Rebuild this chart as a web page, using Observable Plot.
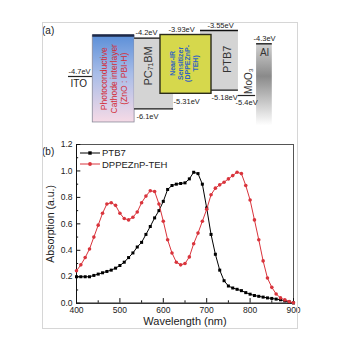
<!DOCTYPE html>
<html><head><meta charset="utf-8">
<script src="https://cdn.jsdelivr.net/npm/d3@7"></script>
<script src="https://cdn.jsdelivr.net/npm/@observablehq/plot@0.6"></script>
<style>
body{margin:0;background:#fff;font-family:"Liberation Sans",Arial,sans-serif;}
#wrap{position:relative;width:353px;height:354px;overflow:hidden;background:#fff;}
#border{position:absolute;left:42px;top:22px;width:254px;height:305px;border:1px solid #d6d6d6;pointer-events:none;}
#a,#b{position:absolute;left:0;}
#a{top:0;}#b{top:130px;}
.tag{position:absolute;font-size:10px;line-height:10px;color:#222;}
.leg{position:absolute;font-size:9.5px;line-height:10px;color:#222;white-space:nowrap;}
</style></head><body>
<div id="wrap">
  <div id="a"></div>
  <div id="b"></div>
  <div class="tag" style="left:42px;top:26px">(a)</div>
  <div class="tag" style="left:42px;top:147px">(b)</div>
  <div id="legend"></div>
  <div id="border"></div>
</div>
<script>
// ---------- (a) energy level diagram data ----------
const boxNames = ["Photoconductive\nCathode interlayer\n(ZnO : PBI-H)", "PC₇₁BM", "Near-IR\nSensitizer\n(DPPEZnP-\nTEH)", "PTB7", "Al"];
const boxLUMO = [-3.97, -4.2, -3.93, -3.55, -4.3];
const boxHOMO = [-6.82, -6.1, -5.31, -5.18, -7.0];
const lineNames = ["ITO", "MoO₃"];
const lineLevels = [-4.7, -5.4];

// ---------- (b) absorption spectra data ----------
const wavelength = [400,410,420,430,440,450,460,470,480,490,500,510,520,530,540,550,560,570,580,590,600,610,620,630,640,650,660,670,680,690,700,710,720,730,740,750,760,770,780,790,800,810,820,830,840,850,860,870,880,890,900];
const ptb7 = [0.20,0.20,0.20,0.20,0.21,0.22,0.23,0.24,0.25,0.265,0.285,0.31,0.345,0.38,0.425,0.46,0.52,0.58,0.645,0.70,0.77,0.86,0.89,0.90,0.905,0.91,0.94,0.99,0.98,0.90,0.72,0.52,0.37,0.25,0.17,0.13,0.115,0.105,0.095,0.08,0.068,0.058,0.052,0.046,0.04,0.036,0.031,0.026,0.018,0.01,0.002];
const dppeznp = [0.245,0.29,0.345,0.41,0.50,0.59,0.68,0.75,0.76,0.74,0.68,0.64,0.63,0.65,0.69,0.76,0.81,0.85,0.845,0.75,0.62,0.48,0.38,0.31,0.29,0.30,0.35,0.45,0.53,0.62,0.71,0.82,0.87,0.895,0.915,0.94,0.965,0.99,0.98,0.89,0.78,0.63,0.48,0.32,0.19,0.12,0.07,0.04,0.025,0.012,0.003];
const seriesNames = ["PTB7", "DPPEZnP-TEH"];
const xTickValues = [400,500,600,700,800,900];
const xMinorTicks = [450,550,650,750,850];
const yTickValues = [0,0.2,0.4,0.6,0.8,1.0,1.2];
const yTickLabels = ["0.0","0.2","0.4","0.6","0.8","1.0","1.2"];
const yMinorTicks = [0.1,0.3,0.5,0.7,0.9,1.1];

// ---------- layout of the schematic (horizontal slots, diagram units 0..100) ----------
const boxSpan = [[11.9,32.4],[32.4,51.5],[45.1,70.1],[64.7,83.3],[92.2,99.9]];
const lineSpan = [[0,11.8],[83.3,91.7]];
const boxFill = ["#5b8fd8","#d4d4d4","#d6d84c","#d4d4d4","#9a9a9a"];
const boxTextColor = ["#d42c36","#333","#2f62c4","#333","#333"];
// the diagram is not drawn to scale: schematic depth of each energy (piecewise)
const energyAnchors = [-6.1, -5.31, -4.7, -4.3, -4.2, -3.55];
const depthAnchors = [108.3, 93.3, 76, 43.3, 37.7, 30];
const schematic = d3.scaleLinear().domain(energyAnchors).range(depthAnchors);

const boxes = boxNames.map((name,i)=>({name, top: boxLUMO[i], bot: boxHOMO[i], x1: boxSpan[i][0], x2: boxSpan[i][1], fill: boxFill[i]}));
const cathode = boxes[0], pcbm = boxes[1], nir = boxes[2], ptb = boxes[3], al = boxes[4];
const lines = lineNames.map((name,i)=>({name, e: lineLevels[i], x1: lineSpan[i][0], x2: lineSpan[i][1]}));

const labelsAbove = [
  {e: lineLevels[0], x: lineSpan[0][0]},
  {e: boxLUMO[1], x: 32.8},
  {e: boxLUMO[2], x: 49.0},
  {e: boxLUMO[3], x: 68.1},
  {e: boxLUMO[4], x: 90.7}
];
const labelsBelow = [
  {e: boxHOMO[1], x: 33.3},
  {e: boxHOMO[2], x: 51.5},
  {e: boxHOMO[3], x: 70.1},
  {e: lineLevels[1], x: 81.9}
];
const ev = d => `${d.e}eV`;

const rectOf = (b, opts) => Plot.rect([b], {x1:"x1", x2:"x2", y1:"top", y2:"bot", ...opts});
const topRule = (b, opts) => Plot.ruleY([b], {y:"top", x1:"x1", x2:"x2", ...opts});
const botRule = (b, opts) => Plot.ruleY([b], {y:"bot", x1:"x1", x2:"x2", ...opts});

const svgA = Plot.plot({
  width: 353, height: 130,
  style: {background: "transparent", fontFamily: "Liberation Sans, Arial, sans-serif"},
  x: {domain: [0, 100], range: [68, 272], axis: null},
  y: {transform: schematic, domain: [0, 130], range: [0, 130], axis: null},
  marks: [
    Plot.ruleY([lines[0]], {y:"e", x1:"x1", x2:"x2", stroke:"#222", strokeWidth:1.2}),
    rectOf(cathode, {fill: cathode.fill, stroke:"#8a8a9a", strokeWidth:0.8}),
    topRule(cathode, {stroke:"#1e2a48", strokeWidth:2.6}),
    rectOf(pcbm, {fill: pcbm.fill}),
    topRule(pcbm, {stroke:"#111", strokeWidth:1.3}),
    botRule(pcbm, {stroke:"#111", strokeWidth:1.3}),
    rectOf(ptb, {fill: ptb.fill}),
    topRule(ptb, {stroke:"#111", strokeWidth:1.3}),
    botRule(ptb, {stroke:"#111", strokeWidth:1.3}),
    rectOf(nir, {fill: nir.fill, stroke:"#2b2b1a", strokeWidth:1.4}),
    Plot.ruleY([lines[1]], {y:"e", x1:"x1", x2:"x2", stroke:"#222", strokeWidth:1.2}),
    rectOf(al, {fill: al.fill}),
    topRule(al, {stroke:"#333", strokeWidth:1.6}),
    Plot.text([cathode], {x: d => (d.x1+d.x2)/2, y: () => -4.78, text:"name", rotate:-90, fill: boxTextColor[0], fontSize:8.5, lineHeight:1.22}),
    Plot.text([pcbm], {x: () => 39.2, y: () => -4.57, text:"name", rotate:-90, fill: boxTextColor[1], fontSize:11}),
    Plot.text([nir], {x: d => (d.x1+d.x2)/2 - 1, y: () => -4.54, text:"name", rotate:-90, fill: boxTextColor[2], fontSize:7, fontWeight:"bold", lineHeight:1.12}),
    Plot.text([ptb], {x: () => 77.8, y: () => -4.49, text:"name", rotate:-90, fill: boxTextColor[3], fontSize:11}),
    Plot.text([lines[1]], {x: () => 88.2, y: () => -4.86, text:"name", rotate:-90, fill:"#333", fontSize:10}),
    Plot.text([al], {x: d => (d.x1+d.x2)/2, y: () => -4.41, text:"name", fill:"#333", fontSize:10}),
    Plot.text([lines[0]], {x: () => 1, y:"e", text:"name", textAnchor:"start", lineAnchor:"top", dy:3, fill:"#222", fontSize:10}),
    Plot.text(labelsAbove, {x:"x", y:"e", text: ev, textAnchor:"start", lineAnchor:"bottom", dy:-3, fill:"#222", fontSize:7.5}),
    Plot.text(labelsBelow, {x:"x", y:"e", text: ev, textAnchor:"start", lineAnchor:"top", dy:4.5, fill:"#222", fontSize:7.5})
  ]
});
const defs = d3.select(svgA).insert("defs", "g");
const g1 = defs.append("linearGradient").attr("id","gCath").attr("x1",0).attr("x2",0).attr("y1",0).attr("y2",1);
[["0%","#5b8fd8"],["45%","#a9bde8"],["100%","#f6dae6"]].forEach(([o,c]) => g1.append("stop").attr("offset",o).attr("stop-color",c));
const g2 = defs.append("linearGradient").attr("id","gAl").attr("x1",0).attr("x2",0).attr("y1",0).attr("y2",1);
[["0%","#d2d2d2"],["40%","#8a8a8a"],["100%","#ffffff"]].forEach(([o,c]) => g2.append("stop").attr("offset",o).attr("stop-color",c));
d3.select(svgA).selectAll('[fill="#5b8fd8"]').attr("fill","url(#gCath)");
d3.select(svgA).selectAll('[fill="#9a9a9a"]').attr("fill","url(#gAl)");
document.getElementById("a").appendChild(svgA);

// ---------- (b) ----------
const dataP = wavelength.map((w,i) => ({w, a: ptb7[i]}));
const dataD = wavelength.map((w,i) => ({w, a: dppeznp[i]}));
const red = "#d9343c";

const svgB = Plot.plot({
  width: 353, height: 200,
  marginLeft: 76, marginRight: 60, marginTop: 14, marginBottom: 27.3,
  style: {background: "transparent", fontFamily: "Liberation Sans, Arial, sans-serif"},
  x: {domain: [400, 900], axis: null},
  y: {domain: [0, 1.2], axis: null},
  marks: [
    Plot.frame({stroke:"#555", strokeWidth:1}),
    Plot.ruleX([400], {stroke:"#111"}),
    Plot.ruleY([0], {stroke:"#111"}),
    Plot.ruleX(xTickValues, {x: d => d, y1: () => 0, y2: () => 0.035, stroke:"#111"}),
    Plot.ruleX(xMinorTicks, {x: d => d, y1: () => 0, y2: () => 0.018, stroke:"#111"}),
    Plot.ruleY(yTickValues, {y: d => d, x1: () => 400, x2: () => 410, stroke:"#111"}),
    Plot.ruleY(yMinorTicks, {y: d => d, x1: () => 400, x2: () => 405, stroke:"#111"}),
    Plot.text(xTickValues, {x: d => d, text: d => String(d), frameAnchor:"bottom", lineAnchor:"top", dy:4, fontSize:8.5, fill:"#222"}),
    Plot.text(yTickValues, {y: d => d, text: (d,i) => yTickLabels[i], frameAnchor:"left", textAnchor:"end", dx:-4, fontSize:8.5, fill:"#222"}),
    Plot.text(["Wavelength (nm)"], {text: d => d, frameAnchor:"bottom", textAnchor:"middle", lineAnchor:"top", dy:14, fontSize:11, fill:"#222"}),
    Plot.text(["Absorption (a.u.)"], {text: d => d, frameAnchor:"left", textAnchor:"middle", rotate:-90, dx:-26, fontSize:10.5, fill:"#222"}),
    Plot.line(dataP, {x:"w", y:"a", stroke:"#000", strokeWidth:1}),
    Plot.dot(dataP, {x:"w", y:"a", symbol:"square", fill:"#000", r:1.7}),
    Plot.line(dataD, {x:"w", y:"a", stroke:red, strokeWidth:1}),
    Plot.dot(dataD, {x:"w", y:"a", fill:red, r:1.8})
  ]
});
document.getElementById("b").appendChild(svgB);

const leg = document.getElementById("legend");
const legColors = ["#000", red];
const legSym = ["square", "circle"];
seriesNames.forEach((name, i) => {
  const top = 148.7 + i*11.6;
  const s = document.createElementNS("http://www.w3.org/2000/svg","svg");
  s.setAttribute("width", 22); s.setAttribute("height", 8);
  s.style.position = "absolute"; s.style.left = "79px"; s.style.top = top + "px";
  const sel = d3.select(s);
  sel.append("line").attr("x1",1).attr("x2",21).attr("y1",4).attr("y2",4).attr("stroke",legColors[i]).attr("stroke-width",1);
  if (legSym[i] === "square") sel.append("rect").attr("x",9.3).attr("y",2.3).attr("width",3.4).attr("height",3.4).attr("fill",legColors[i]);
  else sel.append("circle").attr("cx",11).attr("cy",4).attr("r",1.9).attr("fill",legColors[i]);
  leg.appendChild(s);
  const t = document.createElement("div");
  t.className = "leg"; t.textContent = name;
  t.style.left = "102px"; t.style.top = (top - 0.7) + "px";
  leg.appendChild(t);
});
</script>
</body></html>
